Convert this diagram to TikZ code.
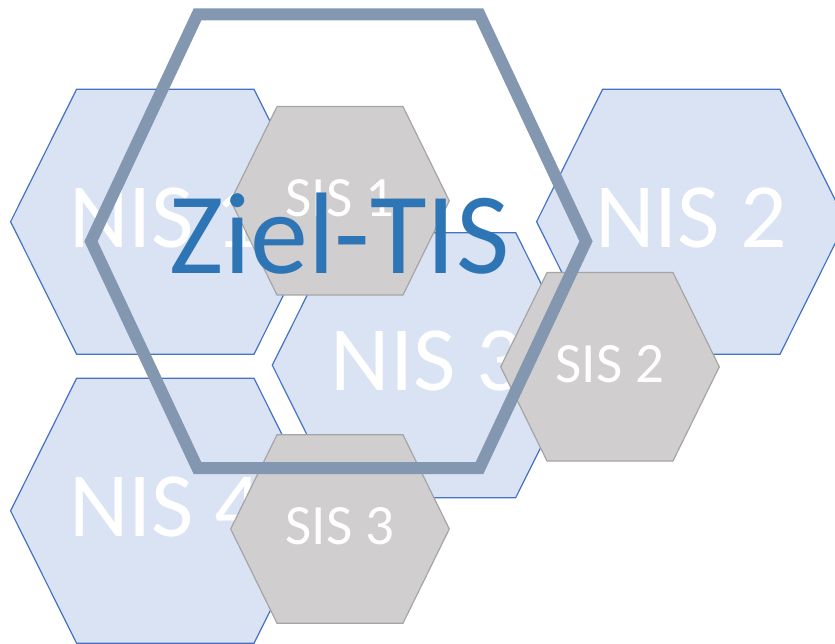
\documentclass[tikz,border=0pt]{standalone}
\usepackage{fontspec}
\setmainfont{Carlito}
\usepackage{tikz}
\usetikzlibrary{positioning}

\definecolor{nisfill}{HTML}{DAE3F3}
\definecolor{nisline}{HTML}{4472C4}
\definecolor{sisfill}{HTML}{D0CECE}
\definecolor{sisline}{HTML}{A5A5A5}
\definecolor{tisline}{HTML}{8497B0}
\definecolor{tisblue}{HTML}{2E75B6}

% flat-topped hexagon: #1 style, #2 centre, #3 half width, #4 half top side, #5 half height
\newcommand{\hexa}[5]{%
  \draw[#1] (#2) ++(-#3,0) -- ++(#3-#4,-#5) -- ++(2*#4,0) -- ++(#3-#4,#5)
    -- ++(#4-#3,#5) -- ++(-2*#4,0) -- cycle;}

\tikzset{
  nis/.style={fill=nisfill, draw=nisline, line width=1.2pt},
  sis/.style={fill=sisfill, draw=sisline, line width=1.2pt},
  tis/.style={draw=tisline, line width=12pt, miter limit=10},
  nislabel/.style={text=white, font=\fontsize{92}{92}\selectfont, yshift=4pt},
  sislabel/.style={text=white, font=\fontsize{57}{57}\selectfont, yshift=3pt},
  tislabel/.style={text=tisblue, font=\fontsize{116}{116}\selectfont, anchor=base},
}

\begin{document}
\begin{tikzpicture}[x=1pt, y={(0pt,-1pt)}]
      \useasboundingbox (0,0) rectangle (835,644);
      % Centres
      \coordinate (c-nis1) at (165.3,221.7);
      \coordinate (c-nis2) at (691.3,221.7);
      \coordinate (c-nis3) at (427,365.2);
      \coordinate (c-nis4) at (165.3,510.8);
      \coordinate (c-sis1) at (340,200.8);
      \coordinate (c-sis2) at (610,366.8);
      \coordinate (c-sis3) at (340,529);
      \coordinate (c-tis)  at (338.5,241.3);
      % Neighbouring systems
      \hexa{nis}{c-nis1}{154.7}{88.7}{132.5}
      \node[nislabel] (nis1) at (c-nis1) {NIS 1};
      \hexa{nis}{c-nis2}{154.7}{88.7}{132.5}
      \node[nislabel] (nis2) at (c-nis2) {NIS 2};
      \hexa{nis}{c-nis3}{154.7}{88.7}{132.5}
      \node[nislabel] (nis3) at (c-nis3) {NIS 3};
      \hexa{nis}{c-nis4}{154.7}{88.7}{132.5}
      \node[nislabel] (nis4) at (c-nis4) {NIS 4};
      % Subsystems
      \hexa{sis}{c-sis1}{109.3}{63}{94.2}
      \node[sislabel] (sis1) at (c-sis1) {SIS 1};
      \hexa{sis}{c-sis2}{109.3}{63}{94.2}
      \node[sislabel] (sis2) at (c-sis2) {SIS 2};
      \hexa{sis}{c-sis3}{109.3}{63}{94.2}
      \node[sislabel] (sis3) at (c-sis3) {SIS 3};
      % Target system on top
      \hexa{tis}{c-tis}{247.5}{141}{226.8}
      \node[tislabel] (tis) at (339.7,273.3) {Ziel-TIS};
    \end{tikzpicture}
\end{document}
